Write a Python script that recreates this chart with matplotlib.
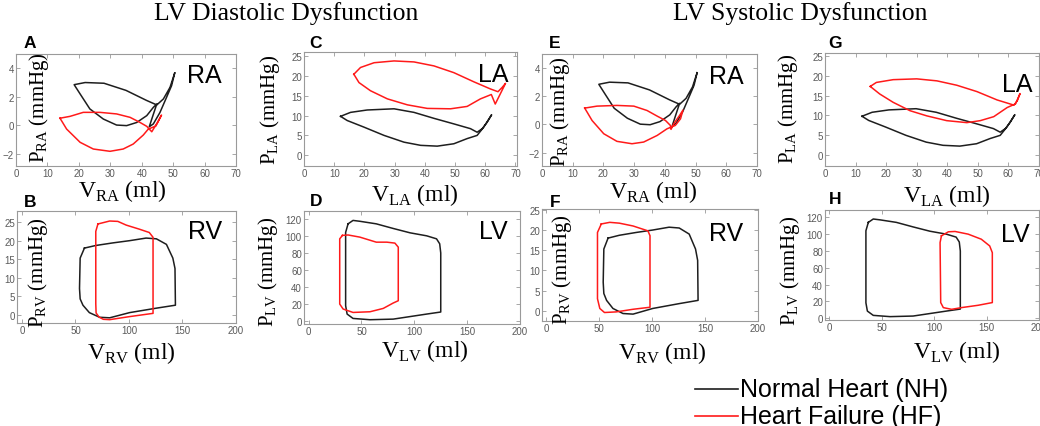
import matplotlib
matplotlib.use("Agg")
import matplotlib.pyplot as plt
from matplotlib.lines import Line2D

plt.rcParams['mathtext.fontset'] = 'custom'
plt.rcParams['mathtext.rm'] = 'Liberation Serif'

W, H = 1040, 427

# ---- pressure-volume loops (volume ml, pressure mmHg) ----
# RA, normal heart (same loop in A and E)
ra_nh_v = [50.5, 49.0, 46.9, 44.8, 41.5, 35.0, 28.0, 22.0, 18.5, 20.4, 23.5, 27.8, 32.0, 35.2,
           38.4, 41.6, 43.7, 44.8, 43.2, 42.4, 43.7, 45.8, 47.9, 49.5, 50.5]
ra_nh_p = [3.67, 2.66, 1.85, 1.43, 1.75, 2.45, 2.95, 3.0, 2.85, 2.2, 1.15, 0.44, 0.02, -0.02,
           0.2, 0.68, 1.26, 1.5, 0.44, -0.1, 0.1, 0.9, 1.96, 2.78, 3.67]
# RA, heart failure, diastolic dysfunction (A)
ra_hfd_v = [14.0, 17.2, 21.4, 26.7, 32.0, 36.3, 39.4, 41.6, 43.2, 45.0, 46.3, 44.5, 42.1, 40.5,
            37.3, 34.1, 29.9, 24.6, 20.4, 16.1, 14.0]
ra_hfd_p = [0.5, 0.63, 0.91, 0.91, 0.8, 0.56, 0.21, -0.07, -0.45, 0.2, 0.72, -0.05, -0.26, -0.68,
            -1.31, -1.66, -1.82, -1.66, -1.19, -0.26, 0.5]
# RA, heart failure, systolic dysfunction (E)
ra_hfs_v = [13.9, 17.9, 24.4, 29.9, 34.2, 37.5, 40.2, 41.8, 42.0, 42.9, 44.8, 45.9, 45.1, 43.4,
            40.7, 37.5, 33.1, 29.3, 24.4, 20.1, 16.3, 14.7, 13.9]
ra_hfs_p = [1.16, 1.3, 1.35, 1.3, 0.99, 0.59, 0.28, -0.07, -0.35, 0.05, 0.64, 1.02, 0.4, -0.07,
            -0.31, -0.78, -1.25, -1.37, -1.2, -0.66, 0.28, 0.87, 1.16]

# LA, normal heart (C and G)
la_nh_v = [12.1, 15.4, 20.9, 29.8, 36.4, 43.0, 49.6, 55.1, 57.3, 59.0, 60.6, 62.1, 59.5, 57.3,
           54.0, 49.6, 44.1, 38.6, 33.1, 26.5, 19.8, 14.3, 12.1]
la_nh_p = [9.8, 10.8, 11.4, 11.7, 10.8, 9.3, 7.9, 6.7, 5.8, 6.7, 8.3, 10.2, 7.1, 5.0,
           4.2, 2.9, 2.3, 2.5, 3.3, 5.0, 7.1, 8.75, 9.8]
# LA, heart failure, diastolic (C)
la_hfd_v = [16.5, 18.7, 23.2, 29.8, 36.4, 43.0, 49.6, 56.2, 61.7, 64.2, 65.6, 66.7, 63.3, 62.0,
            58.4, 54.0, 48.5, 40.8, 34.2, 27.6, 22.0, 18.2, 16.5]
la_hfd_p = [20.4, 22.1, 23.3, 23.75, 23.5, 22.5, 20.8, 18.5, 16.7, 16.0, 17.1, 18.1, 12.9, 15.3,
            14.2, 12.3, 11.7, 11.8, 12.7, 14.2, 16.25, 18.3, 20.4]
# LA, heart failure, systolic (G)
la_hfs_v = [14.8, 16.8, 22.3, 30.0, 36.6, 43.1, 49.7, 56.3, 61.8, 62.9, 63.8, 62.3, 59.6, 55.2,
            50.8, 46.4, 39.8, 33.3, 27.8, 22.3, 17.9, 14.8]
la_hfs_p = [17.3, 18.3, 19.0, 19.2, 18.7, 17.6, 16.0, 13.9, 12.6, 13.7, 15.5, 12.9, 12.0, 9.7,
            8.7, 8.2, 8.7, 9.9, 11.2, 13.3, 15.4, 17.3]

# RV, normal heart (B and F)
rv_nh_v = [58.4, 69.0, 85.0, 100.6, 116.0, 125.6, 135.0, 141.0, 143.0, 143.4, 125.6, 100.6, 82.0,
           72.5, 63.0, 57.0, 54.4, 53.8, 54.4, 58.4]
rv_nh_p = [18.0, 18.7, 19.4, 20.0, 20.7, 20.5, 19.0, 15.3, 12.5, 2.6, 1.8, 0.6, -0.8,
           -0.65, 0.6, 2.6, 4.3, 7.1, 15.3, 18.0]
# RV, heart failure, diastolic (B)
rv_hfd_v = [71.0, 82.0, 89.6, 97.4, 109.7, 119.0, 122.5, 122.5, 100.0, 82.0, 76.0, 72.0, 69.3,
            69.0, 69.0, 71.0]
rv_hfd_p = [24.5, 25.3, 25.2, 24.2, 23.1, 22.2, 20.9, 0.4, -0.5, -1.3, -1.2, -0.6, 0.5,
            3.0, 22.5, 24.5]
# RV, heart failure, systolic (F)
rv_hfs_v = [52.0, 60.0, 69.0, 82.0, 96.0, 98.0, 98.0, 82.0, 66.0, 55.0, 50.6, 48.4, 48.4, 52.0]
rv_hfs_p = [21.5, 21.9, 21.7, 21.0, 19.8, 18.6, 0.9, 0.4, -0.25, -0.4, 0.6, 3.0, 19.4, 21.5]

# LV, normal heart (D and H)
lv_nh_v = [37.3, 42.0, 48.4, 64.0, 80.0, 96.0, 111.7, 121.0, 124.0, 125.0, 125.0, 111.7, 80.0,
           58.0, 42.0, 36.4, 35.0, 35.0, 37.3]
lv_nh_p = [114, 118, 117, 114, 108.6, 103.5, 100, 96.5, 90.7, 80, 11, 8.6, 2.7,
           2, 3.5, 8.6, 18.4, 104, 114]
# LV, heart failure, diastolic (D)
lv_hfd_v = [32.0, 37.3, 48.4, 64.0, 74.0, 81.6, 84.8, 84.8, 80.0, 70.6, 58.0, 42.0, 32.6, 29.4,
            29.4, 32.0]
lv_hfd_p = [100.5, 101, 98.5, 92.6, 92.6, 91.5, 86.8, 24.2, 21.5, 15.2, 11.3, 10.5, 14.5, 20.3,
            96.5, 100.5]
# LV, heart failure, systolic (H)
lv_hfs_v = [107.0, 113.6, 120.0, 132.5, 145.0, 153.0, 155.5, 155.5, 142.0, 126.0, 116.7, 108.8,
            106.3, 105.7, 107.0]
lv_hfs_p = [98, 102.8, 103.2, 100, 94, 86, 78, 18.7, 15.5, 12.7, 10.7, 12.7,
            18.7, 90, 98]

NH_COLOR = '#1e1e1e'
HF_COLOR = '#ff1a1a'
SERIF = 'Liberation Serif'
SANS = 'Liberation Sans'

fig = plt.figure(figsize=(W / 100, H / 100), dpi=100)


def px(x, y):
    return x / W, 1 - y / H


def make_panel(box, nh, hf, xlim, ylim, xticks, yticks, letter, letter_xy,
               chamber, chamber_xy, ylab, ylab_xy, xlab, xlab_xy):
    l, t, w, h = box
    ax = fig.add_axes([l / W, 1 - (t + h) / H, w / W, h / H])
    ax.plot(nh[0], nh[1], color=NH_COLOR, lw=1.1)
    ax.plot(hf[0], hf[1], color=HF_COLOR, lw=1.1)
    ax.set_xlim(*xlim)
    ax.set_ylim(*ylim)
    ax.set_xticks(xticks)
    ax.set_yticks(yticks)
    ax.tick_params(direction='in', length=3, width=0.6, colors='#999999',
                   labelcolor='#5a5a5a', labelsize=7, top=True, right=True, pad=1.5)
    for lab in ax.get_xticklabels() + ax.get_yticklabels():
        lab.set_family(SANS)
    for sp in ax.spines.values():
        sp.set_color('#9a9a9a')
        sp.set_linewidth(0.8)
    fig.text(*px(*letter_xy), letter, family=SANS, weight='bold', fontsize=12.5,
             ha='center', va='center')
    fig.text(*px(*chamber_xy), chamber, family=SANS, fontsize=18,
             ha='center', va='center')
    fig.text(*px(*ylab_xy), r'P$_{\mathrm{%s}}$ (mmHg)' % ylab, family=SERIF,
             fontsize=15, rotation=90, ha='center', va='center')
    fig.text(*px(xlab_xy[0], xlab_xy[1] + 2), r'V$_{\mathrm{%s}}$ (ml)' % xlab, family=SERIF,
             fontsize=17, ha='center', va='center')
    return ax


ra_xt = [0, 10, 20, 30, 40, 50, 60, 70]
rv_xt = [0, 50, 100, 150, 200]

make_panel((16, 55, 220, 112), (ra_nh_v, ra_nh_p), (ra_hfd_v, ra_hfd_p),
           (0, 70), (-2.85, 5.0), ra_xt, [-2, 0, 2, 4],
           'A', (30, 44), 'RA', (204, 76), 'RA', (39, 108), 'RA', (122, 189))
make_panel((17, 212, 219, 112), (rv_nh_v, rv_nh_p), (rv_hfd_v, rv_hfd_p),
           (-4.6, 199), (-2.2, 28), rv_xt, [0, 5, 10, 15, 20, 25],
           'B', (30, 203), 'RV', (205, 232), 'RV', (38, 273), 'RV', (131, 351))
make_panel((304, 53, 213, 114), (la_nh_v, la_nh_p), (la_hfd_v, la_hfd_p),
           (0, 70.5), (-2.7, 26), ra_xt, [0, 5, 10, 15, 20, 25],
           'C', (316, 44), 'LA', (493, 75), 'LA', (270, 110), 'LA', (415, 193))
make_panel((304, 212, 216, 113), (lv_nh_v, lv_nh_p), (lv_hfd_v, lv_hfd_p),
           (-4.4, 200), (-3, 129), rv_xt, [0, 20, 40, 60, 80, 100, 120],
           'D', (316, 201), 'LV', (493, 232), 'LV', (268, 272), 'LV', (425, 349))
make_panel((542, 55, 215, 112), (ra_nh_v, ra_nh_p), (ra_hfs_v, ra_hfs_p),
           (0, 70), (-2.95, 5.0), ra_xt, [-2, 0, 2, 4],
           'E', (555, 44), 'RA', (726, 77), 'RA', (560, 112), 'RA', (653, 190))
make_panel((542, 210, 216, 112), (rv_nh_v, rv_nh_p), (rv_hfs_v, rv_hfs_p),
           (-4, 200), (-2.5, 25.2), rv_xt, [0, 5, 10, 15, 20, 25],
           'F', (555, 203), 'RV', (726, 234), 'RV', (562, 270), 'RV', (662, 351))
make_panel((825, 54, 214, 113), (la_nh_v, la_nh_p), (la_hfs_v, la_hfs_p),
           (0, 70), (-2.7, 25.7), ra_xt, [0, 5, 10, 15, 20, 25],
           'G', (835, 44), 'LA', (1017, 85), 'LA', (788, 109), 'LA', (947, 194))
make_panel((825, 211, 214, 110), (lv_nh_v, lv_nh_p), (lv_hfs_v, lv_hfs_p),
           (-4, 199), (-2, 128.7), rv_xt, [0, 20, 40, 60, 80, 100, 120],
           'H', (835, 200), 'LV', (1015, 235), 'LV', (790, 271), 'LV', (957, 350))

# column titles
fig.text(*px(286, 14), 'LV Diastolic Dysfunction', family=SERIF, fontsize=18.5,
         ha='center', va='center')
fig.text(*px(800, 14), 'LV Systolic Dysfunction', family=SERIF, fontsize=18.5,
         ha='center', va='center')

# legend at the bottom right
for y, col, txt in [(390, NH_COLOR, 'Normal Heart (NH)'), (417, HF_COLOR, 'Heart Failure (HF)')]:
    x0, yy = px(695, y)
    x1, _ = px(738, y)
    fig.add_artist(Line2D([x0, x1], [yy, yy], color=col, lw=1.2, transform=fig.transFigure))
    fig.text(*px(740, y), txt, family=SANS, fontsize=18, ha='left', va='center')

fig.savefig('out.png', dpi=100)
